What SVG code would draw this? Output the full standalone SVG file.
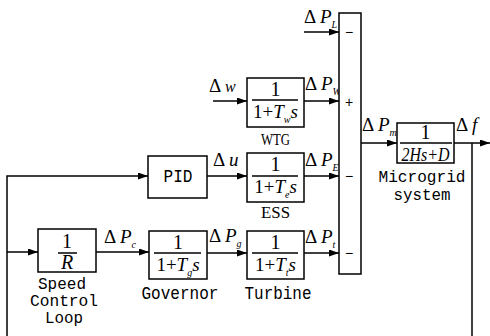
<svg xmlns="http://www.w3.org/2000/svg" width="490" height="336" viewBox="0 0 490 336">
<defs>
<marker id="ah" markerUnits="userSpaceOnUse" markerWidth="11" markerHeight="8" refX="10" refY="3.5" orient="auto">
<path d="M0,0 L10,3.5 L0,7 z" fill="#000"/>
</marker>
<style>
.box{fill:#fff;stroke:#000;stroke-width:1.5}
.ln{fill:none;stroke:#000;stroke-width:1.5}
.ar{fill:none;stroke:#000;stroke-width:1.5;marker-end:url(#ah)}
.m{font-family:"Liberation Serif",serif;font-size:19px;fill:#000}
.num{font-family:"Liberation Serif",serif;font-size:20px;fill:#000}
.i{font-style:italic}
.sub{font-family:"Liberation Serif",serif;font-style:italic;font-size:10px}
.mono{font-family:"Liberation Mono",monospace;font-size:18px;fill:#000}
.mono2{font-family:"Liberation Mono",monospace;font-size:16px;fill:#000}
.ser{font-family:"Liberation Serif",serif;font-size:17px;fill:#000}
.sg{font-family:"Liberation Sans",sans-serif;font-size:14px;fill:#000}
</style>
</defs>
<rect width="490" height="336" fill="#fff"/>

<g id="connectors">
<line class="ar" x1="304" y1="32" x2="339" y2="32"/>
<line class="ar" x1="213" y1="101" x2="247" y2="101"/>
<line class="ar" x1="304" y1="101" x2="339" y2="101"/>
<polyline class="ar" points="7,336 7,176 148,176"/>
<line class="ar" x1="207" y1="176" x2="247" y2="176"/>
<line class="ar" x1="304" y1="176" x2="339" y2="176"/>
<line class="ar" x1="7" y1="252" x2="38" y2="252"/>
<line class="ar" x1="96" y1="252" x2="149" y2="252"/>
<line class="ar" x1="207" y1="253" x2="247" y2="253"/>
<line class="ar" x1="304" y1="253" x2="339" y2="253"/>
<line class="ar" x1="361" y1="143" x2="397" y2="143"/>
<line class="ar" x1="454" y1="143" x2="490" y2="143"/>
<line class="ln" x1="472" y1="143" x2="472" y2="336"/>
</g>

<g id="labels">
<text class="m" x="304" y="23">Δ <tspan class="i">P</tspan><tspan class="sub" dy="5">L</tspan></text>
<text class="m" x="209" y="92">Δ <tspan class="i" font-size="16">w</tspan></text>
<text class="m" x="305" y="90">Δ <tspan class="i">P</tspan><tspan class="sub" dy="5">W</tspan></text>
<text class="m" x="213" y="166">Δ <tspan class="i">u</tspan></text>
<text class="m" x="305" y="166">Δ <tspan class="i">P</tspan><tspan class="sub" dy="5">E</tspan></text>
<text class="m" x="104" y="243">Δ <tspan class="i">P</tspan><tspan class="sub" dy="5">c</tspan></text>
<text class="m" x="209" y="242">Δ <tspan class="i">P</tspan><tspan class="sub" dy="5">g</tspan></text>
<text class="m" x="305" y="243">Δ <tspan class="i">P</tspan><tspan class="sub" dy="5">t</tspan></text>
<text class="m" x="362" y="131">Δ <tspan class="i">P</tspan><tspan class="sub" dy="5">m</tspan></text>
<text class="m" x="456" y="131">Δ <tspan class="i">f</tspan></text>
</g>

<g id="sum">
<rect class="box" x="339" y="13" width="22" height="261"/>
<text class="sg" x="349" y="37" text-anchor="middle">−</text>
<text class="sg" x="349" y="107" text-anchor="middle">+</text>
<text class="sg" x="349" y="181" text-anchor="middle">−</text>
<text class="sg" x="349" y="258" text-anchor="middle">−</text>
</g>

<g id="wtg">
<rect class="box" x="247" y="78" width="57" height="49"/>
<text class="num" x="275.5" y="96" text-anchor="middle">1</text>
<line class="ln" x1="252" y1="100" x2="298" y2="100"/>
<text class="m" x="275.5" y="118" text-anchor="middle">1+<tspan class="i">T</tspan><tspan class="sub" dy="5">w</tspan><tspan class="i" dy="-5">s</tspan></text>
<text class="ser" x="275.5" y="145" text-anchor="middle" textLength="29" lengthAdjust="spacingAndGlyphs">WTG</text>
</g>

<g id="ess">
<rect class="box" x="247" y="153" width="57" height="49"/>
<text class="num" x="275.5" y="171" text-anchor="middle">1</text>
<line class="ln" x1="252" y1="176" x2="298" y2="176"/>
<text class="m" x="275.5" y="193" text-anchor="middle">1+<tspan class="i">T</tspan><tspan class="sub" dy="5">e</tspan><tspan class="i" dy="-5">s</tspan></text>
<text class="ser" x="275.5" y="218" text-anchor="middle" textLength="29" lengthAdjust="spacingAndGlyphs">ESS</text>
</g>

<g id="turbine">
<rect class="box" x="247" y="231" width="57" height="48"/>
<text class="num" x="275.5" y="249" text-anchor="middle">1</text>
<line class="ln" x1="252" y1="253" x2="298" y2="253"/>
<text class="m" x="275.5" y="271" text-anchor="middle">1+<tspan class="i">T</tspan><tspan class="sub" dy="5">t</tspan><tspan class="i" dy="-5">s</tspan></text>
<text class="mono" x="278" y="299" text-anchor="middle" textLength="67" lengthAdjust="spacingAndGlyphs">Turbine</text>
</g>

<g id="governor">
<rect class="box" x="149" y="231" width="58" height="48"/>
<text class="num" x="178" y="249" text-anchor="middle">1</text>
<line class="ln" x1="154" y1="253" x2="201" y2="253"/>
<text class="m" x="178" y="271" text-anchor="middle">1+<tspan class="i">T</tspan><tspan class="sub" dy="5">g</tspan><tspan class="i" dy="-5">s</tspan></text>
<text class="mono" x="180" y="299" text-anchor="middle" textLength="77" lengthAdjust="spacingAndGlyphs">Governor</text>
</g>

<g id="pid">
<rect class="box" x="148" y="156" width="59" height="42"/>
<text class="mono" x="178" y="182" text-anchor="middle" textLength="29" lengthAdjust="spacingAndGlyphs">PID</text>
</g>

<g id="speed">
<rect class="box" x="38" y="229" width="58" height="43"/>
<text class="num" x="67" y="248" text-anchor="middle">1</text>
<line class="ln" x1="58" y1="253" x2="77" y2="253"/>
<text class="num i" x="67" y="269" text-anchor="middle">R</text>
<text class="mono2" x="62" y="289" text-anchor="middle" textLength="48" lengthAdjust="spacingAndGlyphs">Speed</text>
<text class="mono2" x="64" y="306" text-anchor="middle" textLength="68" lengthAdjust="spacingAndGlyphs">Control</text>
<text class="mono2" x="64" y="323" text-anchor="middle" textLength="38" lengthAdjust="spacingAndGlyphs">Loop</text>
</g>

<g id="microgrid">
<rect class="box" x="397" y="123" width="57" height="40"/>
<text class="num" x="425.5" y="139" text-anchor="middle">1</text>
<line class="ln" x1="400" y1="143" x2="452" y2="143"/>
<text class="m i" x="425.5" y="161" text-anchor="middle" textLength="48" lengthAdjust="spacingAndGlyphs">2Hs+D</text>
<text class="mono2" x="422" y="182" text-anchor="middle" font-size="15" textLength="87" lengthAdjust="spacingAndGlyphs">Microgrid</text>
<text class="mono2" x="422" y="200" text-anchor="middle" font-size="15" textLength="57" lengthAdjust="spacingAndGlyphs">system</text>
</g>
</svg>
